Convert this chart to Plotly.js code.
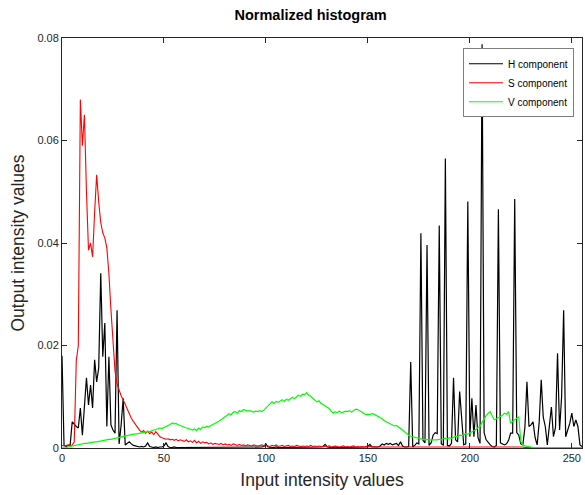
<!DOCTYPE html>
<html>
<head>
<meta charset="utf-8">
<script src="https://cdn.plot.ly/plotly-3.0.1.min.js"></script>
<style>html,body{margin:0;padding:0;background:#fff;}#chart{width:585px;height:495px;}</style>
</head>
<body>
<div id="chart"></div>
<script>
const titleText = "Normalized histogram";
const xTitle = "Input intensity values";
const yTitle = "Output intensity values";
const seriesNames = ["H component", "S component", "V component"];

const hValues = [
0.018, 0.0005, 0.0003, 0.0004, 0.0006, 0.0051, 0.0046, 0.0042, 0.0039, 0.0078,
0.0025, 0.0082, 0.0137, 0.0084, 0.0123, 0.0078, 0.0172, 0.0129, 0.0156, 0.0341,
0.0178, 0.0244, 0.0042, 0.0178, 0.0045, 0.0035, 0.0029, 0.0269, 0.0008, 0.0045,
0.0097, 0.0006, 0.0010, 0.0012, 0.0008, 0.0005, 0.0004, 0.0003, 0.0002, 0.0003,
0.0002, 0.0004, 0.0010, 0.0003, 0.0002, 0.0001, 0.0002, 0.0001, 0.0002, 0.0002,
0.0004, 0.0010, 0.0003, 0.0001, 0.0001, 0.0002, 0.0001, 0.0001, 0.0002, 0.0001,
0.0001, 0.0001, 0.0002, 0.0001, 0.0001, 0.0001, 0.0002, 0.0001, 0.0001, 0.0001,
0.0001, 0.0002, 0.0001, 0.0001, 0.0001, 0.0001, 0.0002, 0.0001, 0.0001, 0.0001,
0.0001, 0.0001, 0.0002, 0.0001, 0.0001, 0.0001, 0.0001, 0.0002, 0.0001, 0.0001,
0.0001, 0.0001, 0.0001, 0.0002, 0.0001, 0.0001, 0.0001, 0.0001, 0.0002, 0.0003,
0.0008, 0.0002, 0.0001, 0.0001, 0.0001, 0.0002, 0.0001, 0.0001, 0.0001, 0.0001,
0.0001, 0.0002, 0.0001, 0.0001, 0.0001, 0.0001, 0.0001, 0.0002, 0.0001, 0.0001,
0.0001, 0.0001, 0.0002, 0.0001, 0.0001, 0.0001, 0.0001, 0.0002, 0.0003, 0.0007,
0.0002, 0.0001, 0.0001, 0.0001, 0.0002, 0.0001, 0.0001, 0.0001, 0.0001, 0.0002,
0.0001, 0.0001, 0.0002, 0.0001, 0.0001, 0.0002, 0.0001, 0.0002, 0.0001, 0.0002,
0.0003, 0.0007, 0.0002, 0.0002, 0.0003, 0.0002, 0.0004, 0.0008, 0.0006, 0.0009,
0.0007, 0.0009, 0.0006, 0.0008, 0.0009, 0.0005, 0.0012, 0.0004, 0.0002, 0.0002,
0.0003, 0.0168, 0.0002, 0.0005, 0.0010, 0.0008, 0.0419, 0.0015, 0.0010, 0.0396,
0.0005, 0.0010, 0.0025, 0.0030, 0.0028, 0.0434, 0.0008, 0.0006, 0.0565, 0.0005,
0.0004, 0.0009, 0.0137, 0.0016, 0.0012, 0.0110, 0.0048, 0.0006, 0.0008, 0.0481,
0.0022, 0.0097, 0.0022, 0.0084, 0.0020, 0.0009, 0.0788, 0.0030, 0.0016, 0.0010,
0.0006, 0.0003, 0.0002, 0.0005, 0.0466, 0.0010, 0.0008, 0.0006, 0.0008, 0.0015,
0.0029, 0.0029, 0.0486, 0.0030, 0.0025, 0.0008, 0.0006, 0.0040, 0.0129, 0.0042,
0.0045, 0.0051, 0.0020, 0.0006, 0.0050, 0.0133, 0.0060, 0.0042, 0.0006, 0.0040,
0.0080, 0.0022, 0.0040, 0.0185, 0.0035, 0.0100, 0.0269, 0.0022, 0.0035, 0.0048,
0.0068, 0.0042, 0.0055, 0.0042, 0.0006, 0.0003
];

const sValues = [
0.0005, 0.0004, 0.0005, 0.0006, 0.0005, 0.0006, 0.0012, 0.0170, 0.0200, 0.0680,
0.0590, 0.0650, 0.0500, 0.0386, 0.0400, 0.0373, 0.0460, 0.0533, 0.0480, 0.0440,
0.0420, 0.0410, 0.0390, 0.0340, 0.0270, 0.0200, 0.0150, 0.0125, 0.0112, 0.0102,
0.0094, 0.0085, 0.0075, 0.0066, 0.0058, 0.0052, 0.0046, 0.0042, 0.0035, 0.0031,
0.0034, 0.0029, 0.0033, 0.0028, 0.0031, 0.0026, 0.0032, 0.0027, 0.0022, 0.0020,
0.0019, 0.0017, 0.0018, 0.0016, 0.0017, 0.0015, 0.0017, 0.0014, 0.0016, 0.0015,
0.0013, 0.0016, 0.0012, 0.0014, 0.0011, 0.0015, 0.0010, 0.0013, 0.0009, 0.0012,
0.0010, 0.0011, 0.0008, 0.0010, 0.0007, 0.0009, 0.0008, 0.0007, 0.0009, 0.0006,
0.0008, 0.0006, 0.0007, 0.0005, 0.0008, 0.0006, 0.0005, 0.0007, 0.0005, 0.0006,
0.0004, 0.0006, 0.0005, 0.0004, 0.0006, 0.0005, 0.0004, 0.0005, 0.0006, 0.0004,
0.0005, 0.0004, 0.0003, 0.0005, 0.0004, 0.0006, 0.0003, 0.0004, 0.0005, 0.0003,
0.0004, 0.0005, 0.0003, 0.0004, 0.0003, 0.0005, 0.0004, 0.0003, 0.0004, 0.0003,
0.0004, 0.0003, 0.0005, 0.0003, 0.0004, 0.0003, 0.0004, 0.0003, 0.0002, 0.0004,
0.0003, 0.0004, 0.0002, 0.0003, 0.0004, 0.0003, 0.0002, 0.0003, 0.0004, 0.0002,
0.0003, 0.0002, 0.0003, 0.0004, 0.0002, 0.0003, 0.0002, 0.0003, 0.0002, 0.0003,
0.0002, 0.0003, 0.0002, 0.0003, 0.0002, 0.0002, 0.0003, 0.0002, 0.0003, 0.0002,
0.0002, 0.0003, 0.0002, 0.0002, 0.0003, 0.0002, 0.0002, 0.0003, 0.0002, 0.0002,
0.0003, 0.0002, 0.0002, 0.0002, 0.0003, 0.0002, 0.0002, 0.0002, 0.0003, 0.0002,
0.0002, 0.0002, 0.0003, 0.0002, 0.0002, 0.0002, 0.0002, 0.0003, 0.0002, 0.0002,
0.0002, 0.0002, 0.0002, 0.0003, 0.0002, 0.0002, 0.0002, 0.0002, 0.0002, 0.0003,
0.0002, 0.0002, 0.0002, 0.0002, 0.0002, 0.0002, 0.0003, 0.0002, 0.0002, 0.0002,
0.0002, 0.0002, 0.0002, 0.0002, 0.0002, 0.0002, 0.0002, 0.0002, 0.0002, 0.0002,
0.0002, 0.0002, 0.0002, 0.0002, 0.0002, 0.0002, 0.0002, 0.0001, 0.0001, 0.0001,
0.0001, 0.0001, 0.0001, 0.0001, 0.0001, 0.0001, 0.0001, 0.0001, 0.0001, 0.0001,
0.0001, 0.0001, 0.0001, 0.0001, 0.0001, 0.0001, 0.0001, 0.0001, 0.0001, 0.0001,
0.0001, 0.0001, 0.0001, 0.0001, 0.0001, 0.0001
];

const vValues = [
0, 0, 0.0001, 0.0002, 0.0003, 0.0004, 0.0005, 0.0006, 0.0007, 0.0007,
0.0008, 0.0009, 0.0009, 0.0010, 0.0011, 0.0011, 0.0012, 0.0012, 0.0013, 0.0014,
0.0014, 0.0015, 0.0016, 0.0017, 0.0017, 0.0018, 0.0019, 0.0020, 0.0020, 0.0021,
0.0022, 0.0023, 0.0024, 0.0025, 0.0026, 0.0027, 0.0027, 0.0028, 0.0029, 0.0030,
0.0030, 0.0031, 0.0032, 0.0032, 0.0034, 0.0035, 0.0036, 0.0037, 0.0039, 0.0038,
0.0040, 0.0041, 0.0043, 0.0046, 0.0049, 0.0047, 0.0048, 0.0045, 0.0044, 0.0042,
0.0041, 0.0039, 0.0038, 0.0036, 0.0035, 0.0037, 0.0034, 0.0039, 0.0036, 0.0041,
0.0040, 0.0042, 0.0041, 0.0044, 0.0046, 0.0047, 0.0049, 0.0052, 0.0055, 0.0058,
0.0062, 0.0064, 0.0067, 0.0065, 0.0070, 0.0071, 0.0068, 0.0073, 0.0071, 0.0075,
0.0074, 0.0072, 0.0073, 0.0071, 0.0070, 0.0072, 0.0071, 0.0073, 0.0071, 0.0074,
0.0078, 0.0083, 0.0088, 0.0090, 0.0087, 0.0091, 0.0089, 0.0092, 0.0094, 0.0091,
0.0095, 0.0093, 0.0097, 0.0099, 0.0096, 0.0100, 0.0103, 0.0101, 0.0105, 0.0104,
0.0108, 0.0103, 0.0101, 0.0097, 0.0093, 0.0090, 0.0092, 0.0087, 0.0085, 0.0082,
0.0080, 0.0077, 0.0072, 0.0068, 0.0071, 0.0069, 0.0072, 0.0069, 0.0070, 0.0072,
0.0071, 0.0073, 0.0070, 0.0074, 0.0076, 0.0075, 0.0073, 0.0071, 0.0068, 0.0065,
0.0066, 0.0065, 0.0067, 0.0066, 0.0064, 0.0062, 0.0060, 0.0057, 0.0053, 0.0051,
0.0049, 0.0047, 0.0045, 0.0043, 0.0044, 0.0040, 0.0038, 0.0035, 0.0031, 0.0028,
0.0025, 0.0023, 0.0022, 0.0020, 0.0019, 0.0019, 0.0018, 0.0017, 0.0017, 0.0016,
0.0016, 0.0016, 0.0016, 0.0015, 0.0016, 0.0017, 0.0016, 0.0018, 0.0019, 0.0018,
0.0020, 0.0019, 0.0021, 0.0023, 0.0022, 0.0025, 0.0024, 0.0026, 0.0028, 0.0027,
0.0029, 0.0031, 0.0033, 0.0036, 0.0040, 0.0042, 0.0050, 0.0058, 0.0063, 0.0068,
0.0071, 0.0062, 0.0055, 0.0057, 0.0059, 0.0061, 0.0064, 0.0068, 0.0066, 0.0071,
0.0048, 0.0052, 0.0055, 0.0059, 0.0061, 0.0012, 0.0006, 0.0004, 0.0003, 0.0002,
0.0001, 0.0001, 0.0001, 0.0001, 0.0001, 0.0001, 0.0001, 0.0001, 0.0001, 0.0001,
0.0001, 0.0001, 0.0001, 0.0001, 0.0001, 0.0001, 0.0001, 0.0001, 0.0001, 0.0001,
0.0001, 0.0001, 0.0001, 0.0001, 0.0001, 0.0001
];

const intensities = hValues.map((_, i) => i);
const xTickVals = [0, 50, 100, 150, 200, 250];
const yTickVals = [0, 0.02, 0.04, 0.06, 0.08];
const yTickText = ["0", "0.02", "0.04", "0.06", "0.08"];

const font = "Liberation Sans, Arial, Helvetica, sans-serif";

const traces = [
  {x: intensities, y: hValues, name: seriesNames[0], type: "scatter", mode: "lines", line: {color: "#000000", width: 1.2}},
  {x: intensities, y: sValues, name: seriesNames[1], type: "scatter", mode: "lines", line: {color: "#ff0000", width: 1.1}},
  {x: intensities, y: vValues, name: seriesNames[2], type: "scatter", mode: "lines", line: {color: "#00ff00", width: 1.2}}
];

const axisCommon = {
  showgrid: false, zeroline: false, showline: true, linecolor: "#262626", linewidth: 1,
  mirror: "ticks", ticks: "inside", ticklen: 5, tickcolor: "#262626", tickwidth: 1,
  tickfont: {family: font, size: 11, color: "#262626"}
};

const layout = {
  width: 585, height: 495,
  margin: {l: 62, r: 3, t: 38, b: 47, pad: 0},
  paper_bgcolor: "#ffffff", plot_bgcolor: "#ffffff",
  font: {family: font, color: "#000"},
  title: {text: "<b>" + titleText + "</b>", font: {family: font, size: 14.5, color: "#000"}, x: 0.531, xanchor: "center", y: 0.969, yanchor: "middle"},
  xaxis: Object.assign({}, axisCommon, {
    range: [0, 255], tickvals: xTickVals,
    title: {text: xTitle, font: {family: font, size: 17.5, color: "#262626"}, standoff: 10}
  }),
  yaxis: Object.assign({}, axisCommon, {
    range: [0, 0.08], tickvals: yTickVals, ticktext: yTickText,
    title: {text: yTitle, font: {family: font, size: 17.5, color: "#262626"}, standoff: 8}
  }),
  showlegend: true,
  legend: {
    x: 0.9846, xanchor: "right", y: 0.975, yanchor: "top",
    bgcolor: "#ffffff", bordercolor: "#7f7f7f", borderwidth: 1,
    font: {family: font, size: 10, color: "#000"},
    tracegroupgap: 0, itemwidth: 34
  }
};

Plotly.newPlot("chart", traces, layout, {displayModeBar: false, staticPlot: true});
</script>
</body>
</html>
